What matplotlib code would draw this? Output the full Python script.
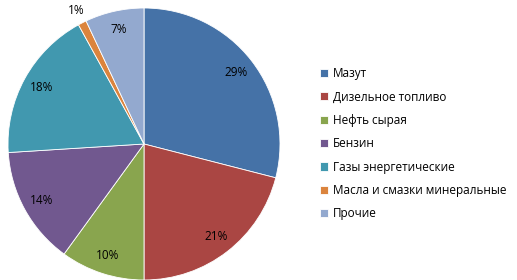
import numpy as np
import matplotlib
matplotlib.use("Agg")
import matplotlib.pyplot as plt

# shares of fuel categories, %
labels = ['Мазут', 'Дизельное топливо', 'Нефть сырая', 'Бензин',
          'Газы энергетические', 'Масла и смазки минеральные', 'Прочие']
shares = [29, 21, 10, 14, 18, 1, 7]
colors = ['#4572A7', '#AA4643', '#89A54E', '#71588F', '#4198AF', '#DB843D', '#93A9CF']

plt.rcParams['font.family'] = ['Open Sans', 'DejaVu Sans']

fig = plt.figure(figsize=(5.17, 2.80), dpi=100)
ax = fig.add_axes([8 / 517, 0 / 280, 272 / 517, 272 / 280])

wedges, texts, autotexts = ax.pie(
    shares, colors=colors, startangle=90, counterclock=False,
    autopct=lambda p: f'{p:.0f}%', pctdistance=0.86, radius=1,
    wedgeprops=dict(edgecolor='white', linewidth=0.6),
    textprops=dict(fontsize=8.5, color='black'))

# the tiny slice gets its label outside the pie
for w, t, v in zip(wedges, autotexts, shares):
    if v < 3:
        ang = np.deg2rad((w.theta1 + w.theta2) / 2)
        t.set_position((1.1 * np.cos(ang), 1.1 * np.sin(ang)))

ax.set_xlim(-1, 1)
ax.set_ylim(-1, 1)
ax.set_aspect('equal')

fig.legend(wedges, labels, loc='upper left', bbox_to_anchor=(320 / 517, 1 - 67 / 280),
           frameon=False, fontsize=8.5, handlelength=0.7, handleheight=0.7,
           handletextpad=0.4, labelspacing=0.88, borderpad=0, borderaxespad=0)

fig.savefig('out.png', dpi=100)
